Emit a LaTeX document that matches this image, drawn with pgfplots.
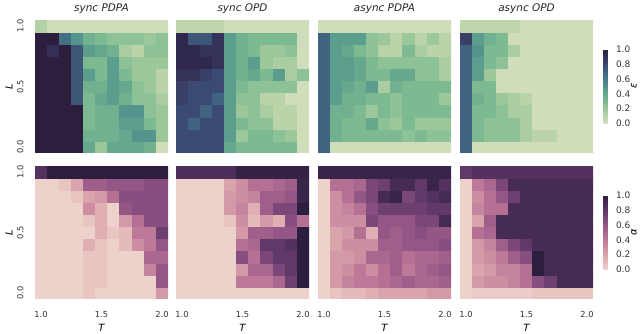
\documentclass[border=0pt]{standalone}
\usepackage{fontspec}
\setmainfont{DejaVu Sans}
\usepackage{pgfplots}
\usepackage{pgfplotstable}
\pgfplotsset{compat=1.18}

% cubehelix maps (seaborn): eps = start .5, rot -.75 ; alpha = default
\pgfplotsset{
  colormap={eps}{rgb255=(214,223,192) rgb255=(186,211,169) rgb255=(155,199,154)
    rgb255=(126,186,145) rgb255=(101,168,142) rgb255=(83,148,140) rgb255=(71,124,137)
    rgb255=(64,99,129) rgb255=(59,74,113) rgb255=(54,51,91) rgb255=(44,31,62)},
  colormap={alp}{rgb255=(237,209,203) rgb255=(229,186,186) rgb255=(218,164,172)
    rgb255=(205,142,161) rgb255=(189,122,152) rgb255=(170,103,143) rgb255=(147,86,133)
    rgb255=(123,71,120) rgb255=(97,57,105) rgb255=(70,43,85) rgb255=(45,30,62)},
}

% columns a..d: sync PDPA, sync OPD, async PDPA, async OPD (epsilon)
\pgfplotstableread{
x y a b c d
1.0 0.0 1 0.8 0.7 0.7
1.1 0.0 1 0.8 0.02 0.02
1.2 0.0 1 0.8 0.02 0.02
1.3 0.0 1 0.8 0.02 0.02
1.4 0.0 0.4 0.4 0.02 0.02
1.5 0.0 0.2 0.3 0.02 0.02
1.6 0.0 0.4 0.3 0.02 0.02
1.7 0.0 0.4 0.3 0.02 0.02
1.8 0.0 0.4 0.3 0.02 0.02
1.9 0.0 0.35 0.3 0.02 0.02
2.0 0.0 0.02 0.02 0.02 0.02
1.0 0.1 1 0.8 0.7 0.7
1.1 0.1 1 0.8 0.35 0.3
1.2 0.1 1 0.8 0.3 0.25
1.3 0.1 1 0.8 0.3 0.25
1.4 0.1 0.35 0.45 0.3 0.25
1.5 0.1 0.35 0.2 0.3 0.15
1.6 0.1 0.35 0.3 0.3 0.1
1.7 0.1 0.4 0.3 0.25 0.1
1.8 0.1 0.5 0.25 0.3 0.02
1.9 0.1 0.5 0.2 0.25 0.02
2.0 0.1 0.2 0.02 0.25 0.02
1.0 0.2 1 0.8 0.7 0.7
1.1 0.2 1 0.7 0.35 0.3
1.2 0.2 1 0.8 0.3 0.25
1.3 0.2 1 0.8 0.3 0.25
1.4 0.2 0.3 0.45 0.4 0.25
1.5 0.2 0.35 0.3 0.25 0.15
1.6 0.2 0.35 0.25 0.2 0.02
1.7 0.2 0.45 0.25 0.3 0.02
1.8 0.2 0.45 0.1 0.2 0.02
1.9 0.2 0.3 0.1 0.2 0.02
2.0 0.2 0.2 0.02 0.2 0.02
1.0 0.3 1 0.8 0.7 0.7
1.1 0.3 1 0.8 0.35 0.3
1.2 0.3 1 0.7 0.35 0.3
1.3 0.3 1 0.8 0.3 0.25
1.4 0.3 0.3 0.45 0.2 0.15
1.5 0.3 0.35 0.2 0.3 0.15
1.6 0.3 0.35 0.25 0.25 0.02
1.7 0.3 0.5 0.15 0.3 0.02
1.8 0.3 0.5 0.1 0.3 0.02
1.9 0.3 0.25 0.1 0.3 0.02
2.0 0.3 0.2 0.02 0.3 0.02
1.0 0.4 1 0.85 0.7 0.7
1.1 0.4 1 0.8 0.45 0.35
1.2 0.4 1 0.8 0.35 0.3
1.3 0.4 0.75 0.7 0.35 0.2
1.4 0.4 0.3 0.45 0.3 0.15
1.5 0.4 0.4 0.25 0.3 0.1
1.6 0.4 0.45 0.25 0.25 0.02
1.7 0.4 0.35 0.1 0.3 0.02
1.8 0.4 0.25 0.1 0.3 0.02
1.9 0.4 0.25 0.02 0.3 0.02
2.0 0.4 0.15 0.02 0.2 0.02
1.0 0.5 1 0.85 0.7 0.7
1.1 0.5 1 0.8 0.45 0.3
1.2 0.5 1 0.8 0.4 0.3
1.3 0.5 0.75 0.8 0.35 0.02
1.4 0.5 0.35 0.45 0.45 0.02
1.5 0.5 0.35 0.3 0.15 0.02
1.6 0.5 0.45 0.25 0.35 0.02
1.7 0.5 0.4 0.25 0.3 0.02
1.8 0.5 0.25 0.25 0.3 0.02
1.9 0.5 0.2 0.25 0.3 0.02
2.0 0.5 0.1 0.02 0.3 0.02
1.0 0.6 1 0.9 0.7 0.7
1.1 0.6 1 0.9 0.45 0.45
1.2 0.6 1 0.85 0.45 0.2
1.3 0.6 0.75 0.8 0.4 0.02
1.4 0.6 0.45 0.45 0.3 0.02
1.5 0.6 0.3 0.35 0.3 0.02
1.6 0.6 0.45 0.4 0.4 0.02
1.7 0.6 0.3 0.3 0.4 0.02
1.8 0.6 0.2 0.45 0.25 0.02
1.9 0.6 0.2 0.15 0.25 0.02
2.0 0.6 0.1 0.25 0.15 0.02
1.0 0.7 1 0.95 0.7 0.7
1.1 0.7 1 0.95 0.45 0.45
1.2 0.7 1 0.95 0.45 0.3
1.3 0.7 0.75 0.9 0.4 0.25
1.4 0.7 0.3 0.45 0.3 0.02
1.5 0.7 0.3 0.35 0.25 0.02
1.6 0.7 0.45 0.45 0.25 0.02
1.7 0.7 0.25 0.2 0.25 0.02
1.8 0.7 0.2 0.15 0.25 0.02
1.9 0.7 0.2 0.15 0.25 0.02
2.0 0.7 0.2 0.02 0.15 0.02
1.0 0.8 1 0.95 0.7 0.7
1.1 0.8 0.92 0.95 0.45 0.5
1.2 0.8 1 0.9 0.4 0.3
1.3 0.8 0.75 0.9 0.3 0.3
1.4 0.8 0.45 0.45 0.25 0.15
1.5 0.8 0.4 0.35 0.1 0.02
1.6 0.8 0.35 0.3 0.1 0.02
1.7 0.8 0.15 0.2 0.3 0.02
1.8 0.8 0.1 0.2 0.15 0.02
1.9 0.8 0.25 0.25 0.1 0.02
2.0 0.8 0.25 0.02 0.1 0.02
1.0 0.9 1 0.95 0.7 0.85
1.1 0.9 1 0.75 0.45 0.45
1.2 0.9 0.65 0.75 0.45 0.35
1.3 0.9 0.5 0.9 0.45 0.3
1.4 0.9 0.35 0.45 0.25 0.02
1.5 0.9 0.3 0.35 0.2 0.02
1.6 0.9 0.25 0.3 0.1 0.02
1.7 0.9 0.25 0.3 0.2 0.02
1.8 0.9 0.25 0.3 0.1 0.02
1.9 0.9 0.2 0.3 0.2 0.02
2.0 0.9 0.25 0.02 0.1 0.02
1.0 1.0 0.12 0.08 0.02 0.08
1.1 1.0 0.02 0.08 0.02 0.08
1.2 1.0 0.02 0.08 0.02 0.08
1.3 1.0 0.02 0.08 0.02 0.08
1.4 1.0 0.02 0.02 0.02 0.08
1.5 1.0 0.02 0.02 0.02 0.02
1.6 1.0 0.02 0.02 0.02 0.02
1.7 1.0 0.02 0.02 0.02 0.02
1.8 1.0 0.02 0.02 0.02 0.02
1.9 1.0 0.02 0.02 0.02 0.02
2.0 1.0 0.02 0.02 0.02 0.02
}\epstab

% columns e..h: same four methods (alpha)
\pgfplotstableread{
x y e f g h
1.0 0.0 0 0 0 0
1.1 0.0 0 0 0.05 0.02
1.2 0.0 0 0 0.1 0.02
1.3 0.0 0 0 0.1 0.02
1.4 0.0 0.05 0 0.15 0.02
1.5 0.0 0 0 0.2 0.02
1.6 0.0 0 0 0.2 0.05
1.7 0.0 0 0 0.2 0.05
1.8 0.0 0 0 0.2 0.05
1.9 0.0 0 0 0.25 0.05
2.0 0.0 0.25 0 0.25 0.05
1.0 0.1 0 0 0 0
1.1 0.1 0 0 0.25 0.25
1.2 0.1 0 0 0.35 0.3
1.3 0.1 0 0 0.4 0.3
1.4 0.1 0.05 0 0.4 0.35
1.5 0.1 0.05 0.4 0.45 0.45
1.6 0.1 0 0.4 0.5 0.65
1.7 0.1 0 0.4 0.55 0.75
1.8 0.1 0 0.5 0.5 0.9
1.9 0.1 0 0.75 0.5 0.9
2.0 0.1 0.6 1 0.55 0.9
1.0 0.2 0 0 0 0
1.1 0.2 0 0 0.25 0.2
1.2 0.2 0 0 0.3 0.25
1.3 0.2 0 0 0.4 0.35
1.4 0.2 0.05 0 0.3 0.35
1.5 0.2 0.05 0.25 0.45 0.45
1.6 0.2 0 0.5 0.55 1
1.7 0.2 0 0.5 0.4 0.9
1.8 0.2 0 0.7 0.5 0.9
1.9 0.2 0.35 0.8 0.55 0.9
2.0 0.2 0.6 1 0.6 0.9
1.0 0.3 0 0 0 0
1.1 0.3 0 0 0.25 0.25
1.2 0.3 0 0 0.25 0.3
1.3 0.3 0 0 0.3 0.4
1.4 0.3 0.05 0 0.5 0.55
1.5 0.3 0.05 0.65 0.5 0.65
1.6 0.3 0 0.45 0.55 1
1.7 0.3 0 0.7 0.45 0.9
1.8 0.3 0 0.8 0.5 0.9
1.9 0.3 0.5 0.8 0.5 0.9
2.0 0.3 0.5 1 0.55 0.9
1.0 0.4 0 0 0 0
1.1 0.4 0 0 0.2 0.25
1.2 0.4 0 0 0.3 0.35
1.3 0.4 0 0 0.3 0.55
1.4 0.4 0.15 0 0.3 0.7
1.5 0.4 0.05 0.45 0.55 0.8
1.6 0.4 0 0.5 0.55 0.9
1.7 0.4 0.1 0.8 0.6 0.9
1.8 0.4 0.3 0.8 0.6 0.9
1.9 0.4 0.4 0.85 0.6 0.9
2.0 0.4 0.6 1 0.65 0.9
1.0 0.5 0 0 0 0
1.1 0.5 0 0 0.2 0.45
1.2 0.5 0 0 0.25 0.5
1.3 0.5 0 0 0.45 0.9
1.4 0.5 0 0 0.15 0.9
1.5 0.5 0.15 0.25 0.6 0.9
1.6 0.5 0.05 0.55 0.55 0.9
1.7 0.5 0.1 0.55 0.6 0.9
1.8 0.5 0.4 0.6 0.65 0.9
1.9 0.5 0.4 0.6 0.6 0.9
2.0 0.5 0.75 1 0.6 0.9
1.0 0.6 0 0 0 0
1.1 0.6 0 0 0.3 0.2
1.2 0.6 0 0 0.3 0.55
1.3 0.6 0 0 0.3 0.9
1.4 0.6 0.05 0.05 0.7 0.9
1.5 0.6 0.15 0.3 0.6 0.9
1.6 0.6 0 0.1 0.6 0.9
1.7 0.6 0.25 0.25 0.6 0.9
1.8 0.6 0.45 0.15 0.7 0.9
1.9 0.6 0.65 0.65 0.7 0.9
2.0 0.6 0.65 0.45 0.9 0.9
1.0 0.7 0 0 0 0
1.1 0.7 0 0 0.3 0.35
1.2 0.7 0 0 0.35 0.45
1.3 0.7 0 0 0.45 0.45
1.4 0.7 0.3 0.25 0.65 0.9
1.5 0.7 0.15 0.35 0.75 0.9
1.6 0.7 0 0.15 0.75 0.9
1.7 0.7 0.6 0.55 0.75 0.9
1.8 0.7 0.65 0.7 0.75 0.9
1.9 0.7 0.65 0.7 0.8 0.9
2.0 0.7 0.65 1 0.8 0.9
1.0 0.8 0 0 0 0
1.1 0.8 0 0 0.3 0.3
1.2 0.8 0 0 0.45 0.45
1.3 0.8 0.05 0 0.6 0.6
1.4 0.8 0.2 0.25 0.7 0.75
1.5 0.8 0.25 0.3 0.9 0.9
1.6 0.8 0.45 0.35 0.95 0.9
1.7 0.8 0.65 0.55 0.7 0.9
1.8 0.8 0.65 0.55 0.8 0.9
1.9 0.8 0.65 0.6 0.85 0.9
2.0 0.8 0.65 0.95 0.9 0.9
1.0 0.9 0 0 0 0
1.1 0.9 0 0 0.45 0.4
1.2 0.9 0.05 0 0.45 0.5
1.3 0.9 0.2 0 0.5 0.7
1.4 0.9 0.55 0.2 0.7 0.9
1.5 0.9 0.55 0.3 0.75 0.9
1.6 0.9 0.6 0.45 0.9 0.9
1.7 0.9 0.6 0.45 0.9 0.9
1.8 0.9 0.6 0.5 0.8 0.9
1.9 0.9 0.65 0.55 0.95 0.9
2.0 0.9 0.65 0.95 0.85 0.9
1.0 1.0 0.85 0.87 0.95 0.8
1.1 1.0 1 0.87 0.95 0.85
1.2 1.0 1 0.87 0.95 0.85
1.3 1.0 1 0.87 0.95 0.85
1.4 1.0 1 0.87 0.95 0.85
1.5 1.0 1 0.97 0.95 0.85
1.6 1.0 1 0.97 0.95 0.85
1.7 1.0 1 0.97 0.95 0.85
1.8 1.0 1 0.97 0.95 0.85
1.9 1.0 1 0.97 0.95 0.85
2.0 1.0 1 0.97 0.95 0.85
}\alptab

\pgfplotsset{
  hm/.style={
    scale only axis, width=133bp, height=133bp,
    xmin=0.95, xmax=2.05, ymin=-0.05, ymax=1.05,
    axis line style={draw=none}, major tick length=0pt,
    xtick=\empty, ytick=\empty,
    point meta min=0, point meta max=1,
    tick label style={font=\fontsize{8.3}{9}\selectfont, text=black!80},
    title style={font=\itshape\fontsize{10.5}{12}\selectfont, text=black!85,
      at={(0.5,1)}, anchor=base, yshift=3bp},
  },
  leftax/.style={
    ytick={0,0.5,1}, yticklabels={0.0,0.5,1.0},
    yticklabel style={rotate=90, anchor=south}, yticklabel shift=8bp,
    ylabel={\itshape L}, ylabel style={font=\fontsize{10}{12}\selectfont,
      at={(axis description cs:-0.195,0.5)}, anchor=center},
  },
  botax/.style={
    xtick={1,1.5,2}, xticklabels={1.0,1.5,2.0}, xticklabel shift=9bp,
    xlabel={\itshape T}, xlabel style={font=\fontsize{10}{12}\selectfont,
      at={(axis description cs:0.5,-0.215)}, anchor=center},
  },
  cbar/.style={
    colorbar,
    colorbar style={at={(parent axis.east)}, anchor=west, xshift=2bp,
      scale only axis, width=4bp, height=74bp,
      axis line style={draw=none}, major tick length=0pt,
      ytick={0,0.2,0.4,0.6,0.8,1}, yticklabels={0.0,0.2,0.4,0.6,0.8,1.0},
      yticklabel shift=5bp,
      yticklabel style={font=\fontsize{9}{10}\selectfont, text=black!80}},
  },
}

\begin{document}
\begin{tikzpicture}
\useasboundingbox (0,0) rectangle (640bp,334bp);

% epsilon row
\begin{axis}[hm, leftax, colormap name=eps, at={(35bp,181bp)}, anchor=south west, title={sync PDPA}]
\addplot[matrix plot*, mesh/cols=11, point meta=explicit] table[x=x, y=y, meta=a] {\epstab};
\end{axis}
\begin{axis}[hm, colormap name=eps, at={(176bp,181bp)}, anchor=south west, title={sync OPD}]
\addplot[matrix plot*, mesh/cols=11, point meta=explicit] table[x=x, y=y, meta=b] {\epstab};
\end{axis}
\begin{axis}[hm, colormap name=eps, at={(318bp,181bp)}, anchor=south west, title={async PDPA}]
\addplot[matrix plot*, mesh/cols=11, point meta=explicit] table[x=x, y=y, meta=c] {\epstab};
\end{axis}
\begin{axis}[hm, cbar, colormap name=eps, at={(460bp,181bp)}, anchor=south west, title={async OPD}]
\addplot[matrix plot*, mesh/cols=11, point meta=explicit] table[x=x, y=y, meta=d] {\epstab};
\end{axis}

% alpha row
\begin{axis}[hm, leftax, botax, colormap name=alp, at={(35bp,35bp)}, anchor=south west]
\addplot[matrix plot*, mesh/cols=11, point meta=explicit] table[x=x, y=y, meta=e] {\alptab};
\end{axis}
\begin{axis}[hm, botax, colormap name=alp, at={(176bp,35bp)}, anchor=south west]
\addplot[matrix plot*, mesh/cols=11, point meta=explicit] table[x=x, y=y, meta=f] {\alptab};
\end{axis}
\begin{axis}[hm, botax, colormap name=alp, at={(318bp,35bp)}, anchor=south west]
\addplot[matrix plot*, mesh/cols=11, point meta=explicit] table[x=x, y=y, meta=g] {\alptab};
\end{axis}
\begin{axis}[hm, botax, cbar, colormap name=alp, at={(460bp,35bp)}, anchor=south west]
\addplot[matrix plot*, mesh/cols=11, point meta=explicit] table[x=x, y=y, meta=h] {\alptab};
\end{axis}

\node[rotate=90, inner sep=0pt, font=\itshape\fontsize{10}{12}\selectfont] at (634bp,248bp) {ε};
\node[rotate=90, inner sep=0pt, font=\itshape\fontsize{10}{12}\selectfont] at (634bp,102bp) {α};
\end{tikzpicture}
\end{document}
